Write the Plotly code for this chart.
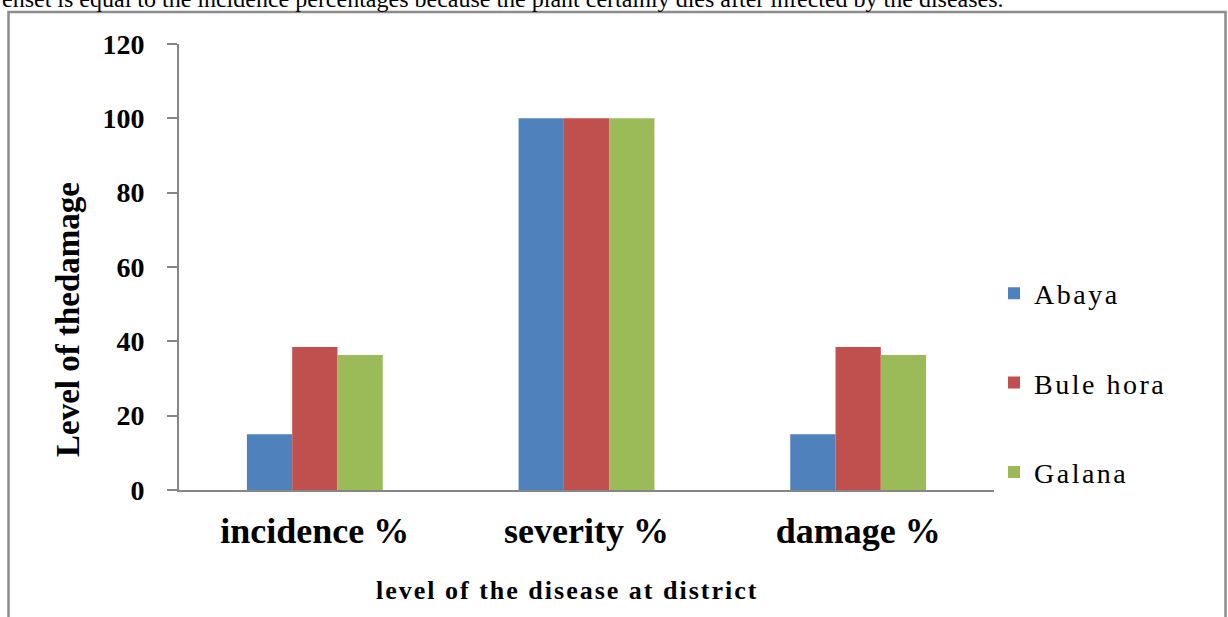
import plotly.graph_objects as go

# Disease levels per district (%)
categories = ["incidence %", "severity %", "damage %"]
districts = ["Abaya", "Bule hora", "Galana"]
abaya = [15, 100, 15]
bule_hora = [38.5, 100, 38.5]
galana = [36.3, 100, 36.3]
series = [abaya, bule_hora, galana]
colors = ["#4F81BD", "#C0504D", "#9BBB59"]

W, H = 1228, 617
L, R, T, B = 179, 994, 44, 490  # plot area in pixels


def px_x(x):
    return (x - L) / (R - L)


def px_y(y):
    return (B - y) / (B - T)


fig = go.Figure()
for i, (name, vals, col) in enumerate(zip(districts, series, colors)):
    fig.add_trace(go.Bar(
        x=categories, y=vals, name=f"<span style='letter-spacing:2.5px'>{name}</span>",
        marker=dict(color=col, line=dict(width=0)),
        legendgroup=f"g{i}",
    ))

serif = "Liberation Serif"

fig.update_layout(
    width=W, height=H,
    margin=dict(l=L, r=W - R, t=T, b=H - B, autoexpand=False),
    paper_bgcolor="white", plot_bgcolor="white",
    barmode="group", bargap=0.5, bargroupgap=0,
    showlegend=True,
    legend=dict(
        x=1.0, xanchor="left", y=px_y(383), yanchor="middle",
        font=dict(family=serif, size=28, color="black"),
        tracegroupgap=50, traceorder="grouped",
        bgcolor="rgba(0,0,0,0)",
    ),
    xaxis=dict(
        showgrid=False, showline=True, linecolor="#868686", linewidth=2,
        ticks="", tickfont=dict(family=serif, size=36, color="black", weight="bold"),
        ticklabelstandoff=8,
    ),
    yaxis=dict(
        range=[0, 120], dtick=20, showgrid=False, zeroline=False,
        showline=True, linecolor="#868686", linewidth=2,
        ticks="outside", ticklen=10, tickcolor="#868686", tickwidth=2,
        tickfont=dict(family=serif, size=28, color="black", weight="bold"),
        ticklabelstandoff=17,
    ),
    font=dict(family=serif, color="black"),
)

# y-axis title
fig.add_annotation(
    text="Level of thedamage", textangle=-90,
    x=px_x(68), y=px_y(320), xref="paper", yref="paper",
    xanchor="center", yanchor="middle", showarrow=False,
    font=dict(family=serif, size=33, color="black", weight="bold"),
)

# x-axis title
fig.add_annotation(
    text="<span style='letter-spacing:2px'>level of the disease at district</span>",
    x=px_x(567), y=px_y(590), xref="paper", yref="paper",
    xanchor="center", yanchor="middle", showarrow=False,
    font=dict(family=serif, size=26, color="black", weight="bold"),
)

# surrounding text line from the page
fig.add_annotation(
    text="enset is equal to the incidence percentages because the plant certainly dies after infected by the diseases.",
    x=px_x(0), y=px_y(14), xref="paper", yref="paper",
    xanchor="left", yanchor="bottom", showarrow=False,
    font=dict(family=serif, size=24, color="black"),
)

# frame around the chart
fig.add_shape(
    type="rect", xref="paper", yref="paper",
    x0=px_x(8.5), x1=px_x(1225.5), y0=px_y(640), y1=px_y(12),
    line=dict(color="#8c8c8c", width=2.5), fillcolor="rgba(0,0,0,0)",
    layer="below",
)

fig.write_html("out.html")
